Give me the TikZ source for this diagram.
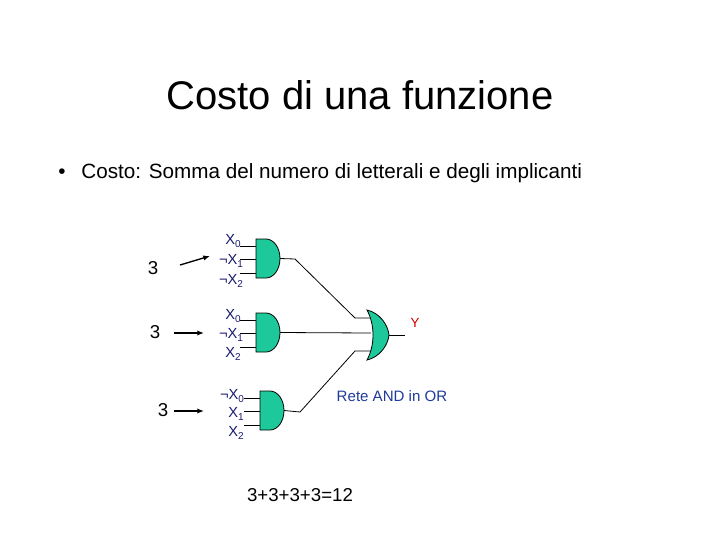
\documentclass[tikz,border=0pt]{standalone}
\usepackage{fontspec}
\setmainfont{Liberation Sans}
\usetikzlibrary{arrows.meta}
\definecolor{gate}{HTML}{1DC99A}
\definecolor{lab}{HTML}{1A1A70}
\definecolor{blu}{HTML}{1F3A9A}
\newcommand{\sbs}[1]{\raisebox{-2.5pt}{\fontsize{7.5}{8}\selectfont #1}}
\begin{document}
\begin{tikzpicture}[x=0.75pt,y=-0.75pt,
  wire/.style={line width=0.6pt},
  arr/.style={line width=1pt,-{Latex[length=5pt,width=4pt]}},
  lbl/.style={text=lab,font=\fontsize{11}{11}\selectfont,inner sep=0pt},
  num/.style={font=\fontsize{14}{14}\selectfont,inner sep=0pt},
  gatefill/.style={fill=gate,draw=black,line width=0.6pt}]
\useasboundingbox (0,0) rectangle (720,540);
\node (title) at (360,95) {\fontsize{30}{30}\selectfont Costo di una funzione};
\node[anchor=west,inner sep=0pt] (bullet) at (58,173) {\fontsize{15.5}{16}\selectfont •\hspace{12pt}Costo: Somma del numero di letterali e degli implicanti};
% AND gates
\foreach \n/\x/\y in {g1/256/239,g2/256/313,g3/260/391}{
  \draw[gatefill] (\x,\y) -- (\x+10,\y) arc[start angle=90,end angle=-90,x radius=14,y radius=-19.5] -- (\x,\y+39) -- cycle;
  \coordinate (\n o) at (\x+24,\y+19.5);
  \foreach \k/\d in {a/7,b/20,c/34}{
    \coordinate (\n\k) at (\x-16,\y+\d);
    \draw[wire] (\n\k) -- (\x,\y+\d);
  }
}
% OR gate
\draw[gatefill] (367,310) .. controls (380,313) and (388,325) .. (389,335)
  .. controls (388,345) and (380,357) .. (367,360)
  .. controls (375,345) and (375,325) .. (367,310) -- cycle;
\coordinate (ora) at (355,318);
\coordinate (orb) at (371,333);
\coordinate (orc) at (355,351);
\coordinate (oro) at (405,335);
\draw[wire] (g1o) -- (295,259) coordinate (k1) -- (ora) -- (370,318);
\draw[wire] (g2o) -- (orb);
\draw[wire] (g3o) -- (300,412) coordinate (k3) -- (orc) -- (370,351);
\draw[wire] (389,335) -- (oro);
\node[text=red!80!black,font=\fontsize{10}{10}\selectfont] (y) at (415,323) {Y};
% labels
\node[lbl] (l1a) at (233,241) {X\sbs{0}};
\node[lbl] (l1b) at (231,261) {¬X\sbs{1}};
\node[lbl] (l1c) at (231,281) {¬X\sbs{2}};
\node[lbl] (l2a) at (233,316) {X\sbs{0}};
\node[lbl] (l2b) at (231,335) {¬X\sbs{1}};
\node[lbl] (l2c) at (233,354) {X\sbs{2}};
\node[lbl] (l3a) at (232,396) {¬X\sbs{0}};
\node[lbl] (l3b) at (236,414) {X\sbs{1}};
\node[lbl] (l3c) at (236,433) {X\sbs{2}};
% counts
\node[num] (n1) at (153,268) {3};
\node[num] (n2) at (155,332) {3};
\node[num] (n3) at (163,410) {3};
\coordinate (a1) at (210,256);
\coordinate (a2) at (204,333);
\coordinate (a3) at (204,411);
\draw[arr] (180,265) -- (a1);
\draw[arr] (174,333) -- (a2);
\draw[arr] (174,411) -- (a3);
\node[text=blu,font=\fontsize{11.3}{11}\selectfont] (rete) at (392,396) {Rete AND in OR};
\node[font=\fontsize{14}{14}\selectfont] (sum) at (300,495) {3+3+3+3=12};
\end{tikzpicture}
\end{document}
